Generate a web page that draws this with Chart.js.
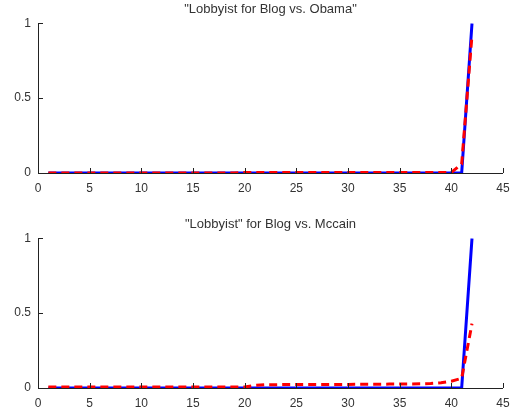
<!DOCTYPE html>
<html>
<head>
<meta charset="utf-8">
<script src="https://cdn.jsdelivr.net/npm/chart.js@4.4.0/dist/chart.umd.min.js"></script>
<style>
  html,body{margin:0;padding:0;background:#fff;}
  #wrap{position:relative;width:526px;height:414px;}
  .plot{position:absolute;left:0;width:526px;}
</style>
</head>
<body>
<div id="wrap">
  <div class="plot" style="top:0;height:207px;"><canvas id="chartObama"></canvas></div>
  <div class="plot" style="top:215px;height:199px;"><canvas id="chartMccain"></canvas></div>
</div>
<script>
// valores
const posiciones = [1,2,3,4,5,6,7,8,9,10,11,12,13,14,15,16,17,18,19,20,21,22,23,24,25,26,27,28,29,30,31,32,33,34,35,36,37,38,39,40,41,42];
const obamaAzul  = [0,0,0,0,0,0,0,0,0,0,0,0,0,0,0,0,0,0,0,0,0,0,0,0,0,0,0,0,0,0,0,0,0,0,0,0,0,0,0,0,0,1];
const obamaRojo  = [0,0,0,0,0,0,0,0,0,0,0,0,0,0,0,0,0,0,0,0.004,0.003,0.003,0.003,0.003,0.003,0.003,0.003,0.003,0.003,0.003,0.003,0.003,0.003,0.003,0.003,0.003,0.003,0.003,0.003,0.004,0.06,0.92];
const mccainAzul = [0,0,0,0,0,0,0,0,0,0,0,0,0,0,0,0,0,0,0,0,0,0,0,0,0,0,0,0,0,0,0,0,0,0,0,0,0,0,0,0,0,1];
const mccainRojo = [0.007,0.007,0.007,0.007,0.007,0.007,0.007,0.007,0.007,0.007,0.007,0.007,0.007,0.007,0.007,0.007,0.007,0.007,0.007,0.007,0.018,0.022,0.022,0.023,0.023,0.023,0.023,0.024,0.024,0.024,0.025,0.025,0.025,0.026,0.026,0.027,0.028,0.03,0.035,0.045,0.065,0.43];
const ticksX = [0,5,10,15,20,25,30,35,40,45];
const ticksY = [0,0.5,1];

const fuente = "'Liberation Sans', Arial, sans-serif";
const colorTexto = '#333';

function puntos(valores){
  return posiciones.map((x,i)=>({x:x, y:valores[i]}));
}

// ticks hacia adentro, estilo matlab
const ticksAdentro = {
  id:'ticksAdentro',
  afterDatasetsDraw(chart){
    const ctx = chart.ctx, a = chart.chartArea;
    const sx = chart.scales.x, sy = chart.scales.y;
    ctx.save();
    ctx.strokeStyle = '#222';
    ctx.lineWidth = 1;
    ctx.beginPath();
    ctx.moveTo(a.left+0.5, a.top);
    ctx.lineTo(a.left+0.5, a.bottom+0.5);
    ctx.lineTo(a.right, a.bottom+0.5);
    ticksX.forEach(v=>{
      const px = Math.round(sx.getPixelForValue(v))+0.5;
      ctx.moveTo(px, a.bottom);
      ctx.lineTo(px, a.bottom-5);
    });
    ticksY.forEach(v=>{
      const py = Math.round(sy.getPixelForValue(v))+0.5;
      ctx.moveTo(a.left, py);
      ctx.lineTo(a.left+5, py);
    });
    ctx.stroke();
    ctx.restore();
  }
};

function appGraph(idCanvas, titulo, azul, rojo, altoEjeX){
  const chartCanvas = document.getElementById(idCanvas).getContext('2d');
  return new Chart(chartCanvas, {
    type: 'line',
    data: {
      datasets: [
        {
          label: 'azul',
          data: puntos(azul),
          borderColor: '#0000ff',
          borderWidth: 3,
          pointRadius: 0,
          tension: 0,
          fill: false,
          order: 1
        },
        {
          label: 'rojo',
          data: puntos(rojo),
          borderColor: '#ff0000',
          borderWidth: 3,
          borderDash: [8,5],
          pointRadius: 0,
          tension: 0,
          fill: false,
          order: 0
        }
      ]
    },
    options: {
      responsive: true,
      maintainAspectRatio: false,
      animation: false,
      layout: { padding: { left: 0, right: 23, top: 0, bottom: 0 } },
      plugins: {
        legend: { display: false },
        tooltip: { enabled: false },
        title: {
          display: true,
          text: titulo,
          color: colorTexto,
          fullSize: false,
          font: { family: fuente, size: 13, weight: 'normal', lineHeight: 1.1 },
          padding: { top: 2, bottom: 7 }
        }
      },
      scales: {
        x: {
          type: 'linear',
          min: 0, max: 45,
          afterBuildTicks: s => { s.ticks = ticksX.map(v=>({value:v})); },
          afterFit: s => { s.height = altoEjeX; },
          border: { display: false },
          grid: { display: false, drawTicks: false },
          ticks: { color: colorTexto, padding: 8, maxRotation: 0, autoSkip: false, font: { family: fuente, size: 12 } }
        },
        y: {
          type: 'linear',
          min: 0, max: 1,
          afterBuildTicks: s => { s.ticks = ticksY.map(v=>({value:v})); },
          afterFit: s => { s.width = 38; },
          border: { display: false },
          grid: { display: false, drawTicks: false },
          ticks: { color: colorTexto, padding: 7, font: { family: fuente, size: 12 }, callback: v => String(v) }
        }
      }
    },
    plugins: [ticksAdentro]
  });
}

appGraph('chartObama', '"Lobbyist for Blog vs. Obama"', obamaAzul, obamaRojo, 34);
appGraph('chartMccain', '"Lobbyist" for Blog vs. Mccain', mccainAzul, mccainRojo, 26);
</script>
</body>
</html>
